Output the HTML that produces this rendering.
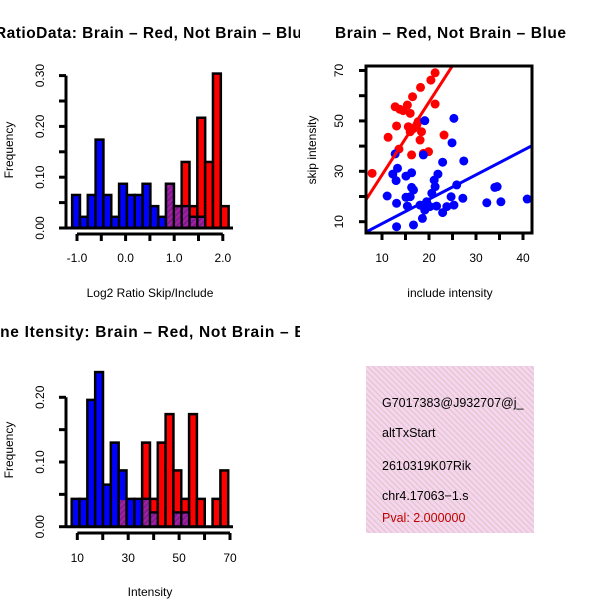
<!DOCTYPE html>
<html><head><meta charset="utf-8"><style>
html,body{margin:0;padding:0;background:#fff;}
svg{display:block;font-family:"Liberation Sans",sans-serif;}
</style></head><body>
<svg id="c" width="600" height="600" viewBox="0 0 600 600" xmlns="http://www.w3.org/2000/svg">
<defs>
<pattern id="hatch" width="4" height="4" patternUnits="userSpaceOnUse" patternTransform="rotate(45)">
<rect width="4" height="4" fill="#a020a0"/><rect width="1.5" height="4" fill="#7a1a8a"/></pattern>
<pattern id="pink" width="4" height="4" patternUnits="userSpaceOnUse" patternTransform="rotate(-45)">
<rect width="4" height="4" fill="#f8d4f0"/><rect width="1.2" height="4" fill="#dcc8c8"/></pattern>
<clipPath id="scClip"><rect x="366" y="66" width="166" height="167"/></clipPath>
<clipPath id="leftClip"><rect x="0" y="0" width="300" height="600"/></clipPath>
</defs>
<g id="g1"></g>
<g id="g2"></g>
<g id="g3"></g>
<g>
<rect x="366" y="366" width="168" height="167" fill="url(#pink)"/>
<text x="382" y="407" font-size="12.5">G7017383@J932707@j_</text>
<text x="382" y="437" font-size="12.5">altTxStart</text>
<text x="382" y="470" font-size="12.5">2610319K07Rik</text>
<text x="382" y="500" font-size="12.5">chr4.17063−1.s</text>
<text x="382" y="522" font-size="12.5" fill="#c00000">Pval: 2.000000</text>
</g>
</svg>
<script>
// ---- Histogram 1 data (log2 ratio) ----
const h1Start = -1.1, h1Width = 0.161;
const h1Blue = [0.065,0.022,0.065,0.174,0.065,0.022,0.087,0.065,0.065,0.087,0.043,0.022,0.087,0.043,0.043,0.022,0.022,0,0,0];
const h1Red  = [0,0,0,0,0,0,0,0,0,0,0,0,0.087,0.043,0.13,0.043,0.217,0.13,0.304,0.043];
const h1XTicks = [-1.0,-0.5,0.0,0.5,1.0,1.5,2.0];
const h1XLabels = ["-1.0","0.0","1.0","2.0"];
const h1YTicks = [0,0.05,0.10,0.15,0.20,0.25,0.30];
const h1YLabels = ["0.00","0.10","0.20","0.30"];
// ---- Histogram 2 data (intensity) ----
const h2Start = 7.8, h2Width = 3.075;
const h2Blue = [0.043,0.043,0.196,0.239,0.065,0.13,0.087,0.043,0.043,0.043,0.022,0,0,0.022,0.022,0,0,0,0,0];
const h2Red  = [0,0,0,0,0,0,0.043,0,0,0.13,0.043,0.13,0.174,0.087,0.043,0.174,0.043,0,0.043,0.087];
const h2XTicks = [10,20,30,40,50,60,70];
const h2XLabels = ["10","30","50","70"];
const h2YTicks = [0,0.05,0.10,0.15,0.20];
const h2YLabels = ["0.00","0.10","0.20"];
// ---- Scatter data ----
const redX = [7.9,11.3,13.1,13.6,12.8,13.8,14.5,15.4,16,16.5,15.6,16,16.7,17.4,17.7,18.4,18.1,16.3,18.8,19.9,18.2,20.4,21.3,21.3,23.2];
const redY = [29.2,43.5,48,38.8,55.6,54.6,54.1,56.3,53,59.6,47.7,45.7,47,48.4,49.7,45.7,42.4,36.5,37.1,37.8,63.3,66.2,69.1,56.7,44.4];
const blueX = [13.1,16.7,11.1,13.1,12.3,13.3,13,12.8,15.1,16.3,15.1,16,16.3,16.7,15.4,19.1,18.8,25.3,24.9,22.9,27.4,21.9,21.1,21.3,20.6,19.5,19.1,18.6,20.2,21.6,22.9,23.8,24.7,25.3,25.9,27.2,32.3,34,34.5,35.3,40.9,18.1];
const blueY = [8,8.7,20.2,17.3,28.9,31.2,26.3,36.9,28.1,29.4,19.7,19.9,23.6,22.6,16.2,50.1,36.5,51,41.3,33.6,34.1,28.9,26.5,23.9,21.3,17.9,14.6,11.3,16,16.2,13.6,16,19.9,16.6,24.6,19.3,17.5,23.6,23.9,17.9,19,16.6];
const redFit = [-0.35, 2.89];   // intercept, slope
const blueFit = [-0.5, 0.97];
const scXTicks = [10,15,20,25,30,35,40];
const scXLabels = ["10","20","30","40"];
const scYTicks = [10,20,30,40,50,60,70];
const scYLabels = ["10","30","50","70"];

const NS = "http://www.w3.org/2000/svg";
function mk(parent, tag, attrs){const e=document.createElementNS(NS,tag);for(const k in attrs)e.setAttribute(k,attrs[k]);parent.appendChild(e);return e;}
function txt(parent, s, attrs){const e=mk(parent,'text',attrs);e.textContent=s;return e;}

function axes(g, xs, ys, xTicks, xLabels, yTicks, yLabels, xAxisY, yAxisX, xLabelY, yLabelX){
  const xa=mk(g,'g',{});
  
  
  mk(xa,'line',{x1:xs(xTicks[0]),x2:xs(xTicks[xTicks.length-1]),y1:xAxisY,y2:xAxisY,stroke:'#000','stroke-width':3});
  xTicks.forEach(t=>{mk(xa,'line',{x1:xs(t),x2:xs(t),y1:xAxisY,y2:xAxisY+7,stroke:'#000','stroke-width':3});});
  xLabels.forEach(l=>{const t=txt(xa,l,{x:xs(parseFloat(l)),y:xLabelY,'font-size':12,'text-anchor':'middle'});
    
    });
  const ya=mk(g,'g',{});
  
  
  mk(ya,'line',{x1:yAxisX,x2:yAxisX,y1:ys(yTicks[0]),y2:ys(yTicks[yTicks.length-1]),stroke:'#000','stroke-width':3});
  yTicks.forEach(t=>{mk(ya,'line',{x1:yAxisX-7,x2:yAxisX,y1:ys(t),y2:ys(t),stroke:'#000','stroke-width':3});});
  yLabels.forEach(l=>{const y=ys(parseFloat(l));const t=txt(ya,l,{x:yLabelX,y:y,'font-size':12,'text-anchor':'middle',transform:`rotate(-90 ${yLabelX} ${y})`});
    
    });
}

function hist(g, start, w, blue, red, xs, ys){
  const n=blue.length;
  for(let i=0;i<n;i++){
    const x0=xs(start+i*w), x1=xs(start+(i+1)*w);
    if(red[i]>0){const r=mk(g,'rect',{x:x0,y:ys(red[i]),width:x1-x0,height:ys(0)-ys(red[i]),fill:'#ff0000',stroke:'#000','stroke-width':2.5});
      
      }
  }
  for(let i=0;i<n;i++){
    const x0=xs(start+i*w), x1=xs(start+(i+1)*w);
    if(blue[i]>0){const b=mk(g,'rect',{x:x0,y:ys(blue[i]),width:x1-x0,height:ys(0)-ys(blue[i]),fill:'#0000ff',stroke:'#000','stroke-width':2.5});
      
      }
  }
  for(let i=0;i<n;i++){
    const x0=xs(start+i*w), x1=xs(start+(i+1)*w);
    const m=Math.min(blue[i],red[i]);
    if(m>0){const p=mk(g,'rect',{x:x0+1.2,y:ys(m)+1.2,width:x1-x0-2.4,height:ys(0)-ys(m)-1.2,fill:'url(#hatch)'});
      
      }
  }
}

// Plot 1
(function(){
  const g=document.getElementById('g1');
  const xs=v=>77+(v+1)*48.6, ys=v=>228-v*508;
  hist(g,h1Start,h1Width,h1Blue,h1Red,xs,ys);
  mk(g,'line',{x1:66,x2:233,y1:228,y2:228,stroke:'#000','stroke-width':3});
  axes(g,xs,ys,h1XTicks,h1XLabels,h1YTicks,h1YLabels,234,66,262,44);
  const t=txt(g,'RatioData: Brain – Red, Not Brain – Blue',{x:-5,y:38,'font-size':15.5,'font-weight':'bold','text-anchor':'start',textLength:316,lengthAdjust:'spacing','clip-path':'url(#leftClip)'});
   
  const xl=txt(g,'Log2 Ratio Skip/Include',{x:150,y:297,'font-size':12,'text-anchor':'middle'});
   
  const yl=txt(g,'Frequency',{x:13,y:150,'font-size':12,'text-anchor':'middle',transform:'rotate(-90 13 150)'});
   
})();

// Plot 2 scatter
(function(){
  const g=document.getElementById('g2');
  const xs=v=>382+(v-10)*4.7, ys=v=>221.7-(v-10)*2.52;
  const pts=mk(g,'g',{'clip-path':'url(#scClip)'});
  redX.forEach((x,i)=>{const c=mk(pts,'circle',{cx:xs(x),cy:ys(redY[i]),r:4.5,fill:'#ff0000'});
     });
  blueX.forEach((x,i)=>{const c=mk(pts,'circle',{cx:xs(x),cy:ys(blueY[i]),r:4.5,fill:'#0000ff'});
     });
  [[redFit,'#ff0000','brain-fit-line'],[blueFit,'#0000ff','not-brain-fit-line']].forEach(([f,col,nm])=>{
    const xa=0,xb=50;
    const l=mk(pts,'line',{x1:xs(xa),y1:ys(f[0]+f[1]*xa),x2:xs(xb),y2:ys(f[0]+f[1]*xb),stroke:col,'stroke-width':3});
     });
  mk(g,'rect',{x:366,y:66,width:166,height:167,fill:'none',stroke:'#000','stroke-width':3});
  axes(g,xs,ys,scXTicks,scXLabels,scYTicks,scYLabels,233,366,262,343);
  const t=txt(g,'Brain – Red, Not Brain – Blue',{x:335,y:38,'font-size':15.5,'font-weight':'bold','text-anchor':'start',textLength:231,lengthAdjust:'spacing'});
   
  const xl=txt(g,'include intensity',{x:450,y:297,'font-size':12,'text-anchor':'middle'});
   
  const yl=txt(g,'skip intensity',{x:316,y:150,'font-size':12,'text-anchor':'middle',transform:'rotate(-90 316 150)'});
   
})();

// Plot 3
(function(){
  const g=document.getElementById('g3');
  const xs=v=>77.3+(v-10)*2.545, ys=v=>526.7-v*647;
  hist(g,h2Start,h2Width,h2Blue,h2Red,xs,ys);
  mk(g,'line',{x1:66,x2:233,y1:526.7,y2:526.7,stroke:'#000','stroke-width':3});
  axes(g,xs,ys,h2XTicks,h2XLabels,h2YTicks,h2YLabels,533,66,562,44);
  const t=txt(g,'Line Itensity: Brain – Red, Not Brain – Blue',{x:-15,y:337,'font-size':15.5,'font-weight':'bold','text-anchor':'start',textLength:345,lengthAdjust:'spacing','clip-path':'url(#leftClip)'});
   
  const xl=txt(g,'Intensity',{x:150,y:596,'font-size':12,'text-anchor':'middle'});
   
  const yl=txt(g,'Frequency',{x:13,y:450,'font-size':12,'text-anchor':'middle',transform:'rotate(-90 13 450)'});
   
})();
</script>
</body></html>
